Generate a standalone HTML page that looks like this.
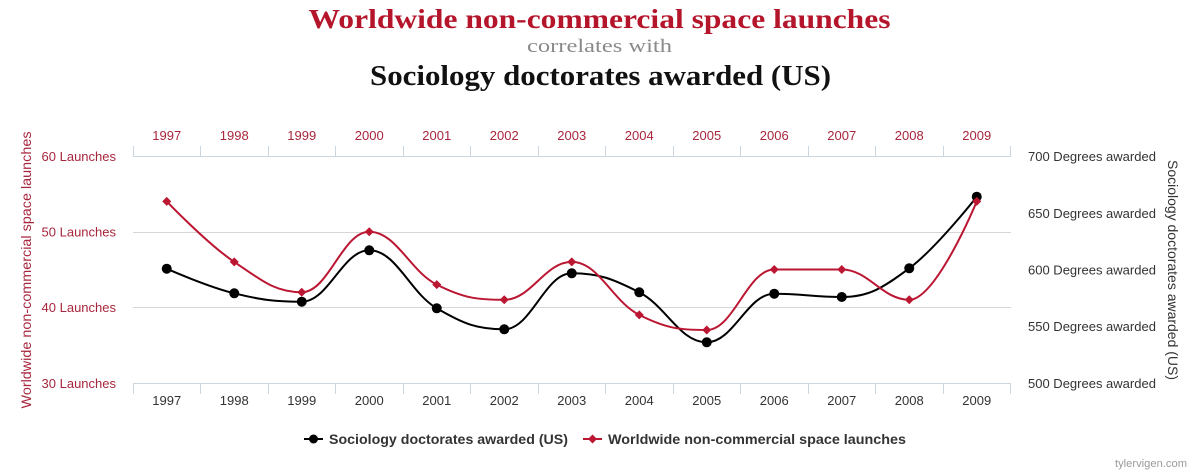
<!DOCTYPE html>
<html>
<head>
<meta charset="utf-8">
<style>
  html, body { margin: 0; padding: 0; background: #ffffff; }
  body { width: 1200px; height: 473px; overflow: hidden; }
  svg { display: block; }
  .sans { font-family: "Liberation Sans", "DejaVu Sans", sans-serif; }
  .serif { font-family: "Liberation Serif", "DejaVu Serif", serif; }
</style>
</head>
<body>
<svg width="1200" height="473" viewBox="0 0 1200 473" xmlns="http://www.w3.org/2000/svg">
  <rect x="0" y="0" width="1200" height="473" fill="#ffffff"/>

  <!-- Titles -->
  <text class="serif" x="599.5" y="28" text-anchor="middle" font-size="27" font-weight="bold" fill="#b5152b" textLength="582" lengthAdjust="spacingAndGlyphs">Worldwide non-commercial space launches</text>
  <text class="serif" x="599.5" y="52" text-anchor="middle" font-size="19" fill="#8a8a8a" textLength="145" lengthAdjust="spacingAndGlyphs">correlates with</text>
  <text class="serif" x="600.5" y="85" text-anchor="middle" font-size="28" font-weight="bold" fill="#111111" textLength="461" lengthAdjust="spacingAndGlyphs">Sociology doctorates awarded (US)</text>

  <!-- Grid lines -->
  <g stroke="#d6d6d6" stroke-width="1">
    <line x1="133" y1="232.5" x2="1011" y2="232.5"/>
    <line x1="133" y1="307.5" x2="1011" y2="307.5"/>
  </g>

  <!-- Axis lines -->
  <g stroke="#ccd6e0" stroke-width="1">
    <line x1="133" y1="156.5" x2="1011" y2="156.5"/>
    <line x1="133" y1="383.5" x2="1011" y2="383.5"/>
    <!-- top ticks -->
    <line x1="133.5" y1="146" x2="133.5" y2="156"/>
    <line x1="200.5" y1="146" x2="200.5" y2="156"/>
    <line x1="268.5" y1="146" x2="268.5" y2="156"/>
    <line x1="335.5" y1="146" x2="335.5" y2="156"/>
    <line x1="403.5" y1="146" x2="403.5" y2="156"/>
    <line x1="470.5" y1="146" x2="470.5" y2="156"/>
    <line x1="538.5" y1="146" x2="538.5" y2="156"/>
    <line x1="605.5" y1="146" x2="605.5" y2="156"/>
    <line x1="673.5" y1="146" x2="673.5" y2="156"/>
    <line x1="740.5" y1="146" x2="740.5" y2="156"/>
    <line x1="808.5" y1="146" x2="808.5" y2="156"/>
    <line x1="875.5" y1="146" x2="875.5" y2="156"/>
    <line x1="943.5" y1="146" x2="943.5" y2="156"/>
    <line x1="1010.5" y1="146" x2="1010.5" y2="156"/>
    <!-- bottom ticks -->
    <line x1="133.5" y1="384" x2="133.5" y2="394"/>
    <line x1="200.5" y1="384" x2="200.5" y2="394"/>
    <line x1="268.5" y1="384" x2="268.5" y2="394"/>
    <line x1="335.5" y1="384" x2="335.5" y2="394"/>
    <line x1="403.5" y1="384" x2="403.5" y2="394"/>
    <line x1="470.5" y1="384" x2="470.5" y2="394"/>
    <line x1="538.5" y1="384" x2="538.5" y2="394"/>
    <line x1="605.5" y1="384" x2="605.5" y2="394"/>
    <line x1="673.5" y1="384" x2="673.5" y2="394"/>
    <line x1="740.5" y1="384" x2="740.5" y2="394"/>
    <line x1="808.5" y1="384" x2="808.5" y2="394"/>
    <line x1="875.5" y1="384" x2="875.5" y2="394"/>
    <line x1="943.5" y1="384" x2="943.5" y2="394"/>
    <line x1="1010.5" y1="384" x2="1010.5" y2="394"/>
  </g>

  <!-- Top year labels -->
  <g class="sans" font-size="13" fill="#a8263d" text-anchor="middle">
    <text x="166.75" y="140">1997</text>
    <text x="234.25" y="140">1998</text>
    <text x="301.75" y="140">1999</text>
    <text x="369.25" y="140">2000</text>
    <text x="436.75" y="140">2001</text>
    <text x="504.25" y="140">2002</text>
    <text x="571.75" y="140">2003</text>
    <text x="639.25" y="140">2004</text>
    <text x="706.75" y="140">2005</text>
    <text x="774.25" y="140">2006</text>
    <text x="841.75" y="140">2007</text>
    <text x="909.25" y="140">2008</text>
    <text x="976.75" y="140">2009</text>
  </g>

  <!-- Bottom year labels -->
  <g class="sans" font-size="13" fill="#333333" text-anchor="middle">
    <text x="166.75" y="405">1997</text>
    <text x="234.25" y="405">1998</text>
    <text x="301.75" y="405">1999</text>
    <text x="369.25" y="405">2000</text>
    <text x="436.75" y="405">2001</text>
    <text x="504.25" y="405">2002</text>
    <text x="571.75" y="405">2003</text>
    <text x="639.25" y="405">2004</text>
    <text x="706.75" y="405">2005</text>
    <text x="774.25" y="405">2006</text>
    <text x="841.75" y="405">2007</text>
    <text x="909.25" y="405">2008</text>
    <text x="976.75" y="405">2009</text>
  </g>

  <!-- Left axis labels -->
  <g class="sans" font-size="13" fill="#a8263d" text-anchor="end">
    <text x="116" y="161">60 Launches</text>
    <text x="116" y="236.5">50 Launches</text>
    <text x="116" y="312">40 Launches</text>
    <text x="116" y="388">30 Launches</text>
  </g>

  <!-- Right axis labels -->
  <g class="sans" font-size="13" fill="#333333" text-anchor="start">
    <text x="1028" y="161">700 Degrees awarded</text>
    <text x="1028" y="218">650 Degrees awarded</text>
    <text x="1028" y="274.5">600 Degrees awarded</text>
    <text x="1028" y="331">550 Degrees awarded</text>
    <text x="1028" y="388">500 Degrees awarded</text>
  </g>

  <!-- Axis titles -->
  <text class="sans" x="31" y="270" transform="rotate(-90 31 270)" text-anchor="middle" font-size="14" fill="#a8263d" textLength="277" lengthAdjust="spacingAndGlyphs">Worldwide non-commercial space launches</text>
  <text class="sans" x="1168" y="270" transform="rotate(90 1168 270)" text-anchor="middle" font-size="14" fill="#333333" textLength="220" lengthAdjust="spacingAndGlyphs">Sociology doctorates awarded (US)</text>

  <!-- Black series: Sociology doctorates -->
  <path fill="none" stroke="#000000" stroke-width="2" stroke-linejoin="round" stroke-linecap="round"
    d="M166.75,268.7
       C166.75,268.7 207.25,286.7 234.25,293.3
       C261.25,299.9 274.75,301.7 301.75,301.7
       C328.75,301.7 342.25,250.3 369.25,250.3
       C396.25,250.3 409.75,292.5 436.75,308.3
       C463.75,324.1 477.25,329.3 504.25,329.3
       C531.25,329.3 544.75,273.3 571.75,273.3
       C598.75,273.3 612.25,278.5 639.25,292.3
       C666.25,306.1 679.75,342.3 706.75,342.3
       C733.75,342.3 747.25,293.7 774.25,293.7
       C801.25,293.7 814.75,297 841.75,297
       C868.75,297 882.25,288.36 909.25,268.3
       C936.25,248.24 976.75,196.7 976.75,196.7"/>
  <g fill="#000000">
    <circle cx="166.75" cy="268.7" r="5"/>
    <circle cx="234.25" cy="293.3" r="5"/>
    <circle cx="301.75" cy="301.7" r="5"/>
    <circle cx="369.25" cy="250.3" r="5"/>
    <circle cx="436.75" cy="308.3" r="5"/>
    <circle cx="504.25" cy="329.3" r="5"/>
    <circle cx="571.75" cy="273.3" r="5"/>
    <circle cx="639.25" cy="292.3" r="5"/>
    <circle cx="706.75" cy="342.3" r="5"/>
    <circle cx="774.25" cy="293.7" r="5"/>
    <circle cx="841.75" cy="297" r="5"/>
    <circle cx="909.25" cy="268.3" r="5"/>
    <circle cx="976.75" cy="196.7" r="5"/>
  </g>

  <!-- Red series: launches -->
  <path fill="none" stroke="#bb1632" stroke-width="2" stroke-linejoin="round" stroke-linecap="round"
    d="M166.75,201.4
       C166.75,201.4 207.25,243.74 234.25,261.9
       C261.25,280.06 274.75,292.2 301.75,292.2
       C328.75,292.2 342.25,231.7 369.25,231.7
       C396.25,231.7 409.75,270.98 436.75,284.6
       C463.75,298.22 477.25,299.8 504.25,299.8
       C531.25,299.8 544.75,261.9 571.75,261.9
       C598.75,261.9 612.25,301.28 639.25,314.9
       C666.25,328.52 679.75,330 706.75,330
       C733.75,330 747.25,269.5 774.25,269.5
       C801.25,269.5 814.75,269.5 841.75,269.5
       C868.75,269.5 882.25,299.8 909.25,299.8
       C936.25,299.8 976.75,201.4 976.75,201.4"/>
  <g fill="#bb1632">
    <path d="M166.75,196.9 L171.25,201.4 L166.75,205.9 L162.25,201.4 Z"/>
    <path d="M234.25,257.4 L238.75,261.9 L234.25,266.4 L229.75,261.9 Z"/>
    <path d="M301.75,287.7 L306.25,292.2 L301.75,296.7 L297.25,292.2 Z"/>
    <path d="M369.25,227.2 L373.75,231.7 L369.25,236.2 L364.75,231.7 Z"/>
    <path d="M436.75,280.1 L441.25,284.6 L436.75,289.1 L432.25,284.6 Z"/>
    <path d="M504.25,295.3 L508.75,299.8 L504.25,304.3 L499.75,299.8 Z"/>
    <path d="M571.75,257.4 L576.25,261.9 L571.75,266.4 L567.25,261.9 Z"/>
    <path d="M639.25,310.4 L643.75,314.9 L639.25,319.4 L634.75,314.9 Z"/>
    <path d="M706.75,325.5 L711.25,330 L706.75,334.5 L702.25,330 Z"/>
    <path d="M774.25,265 L778.75,269.5 L774.25,274 L769.75,269.5 Z"/>
    <path d="M841.75,265 L846.25,269.5 L841.75,274 L837.25,269.5 Z"/>
    <path d="M909.25,295.3 L913.75,299.8 L909.25,304.3 L904.75,299.8 Z"/>
    <path d="M976.75,196.9 L981.25,201.4 L976.75,205.9 L972.25,201.4 Z"/>
  </g>

  <!-- Legend -->
  <line x1="304" y1="439" x2="323" y2="439" stroke="#000000" stroke-width="2"/>
  <circle cx="313.5" cy="439" r="4.5" fill="#000000"/>
  <text class="sans" x="329" y="444" font-size="14" font-weight="bold" fill="#333333" textLength="239" lengthAdjust="spacingAndGlyphs">Sociology doctorates awarded (US)</text>

  <line x1="583" y1="439" x2="602" y2="439" stroke="#bb1632" stroke-width="2"/>
  <path d="M592.5,434.5 L597,439 L592.5,443.5 L588,439 Z" fill="#bb1632"/>
  <text class="sans" x="608" y="444" font-size="14" font-weight="bold" fill="#333333" textLength="298" lengthAdjust="spacingAndGlyphs">Worldwide non-commercial space launches</text>

  <!-- Watermark -->
  <text class="sans" x="1115" y="467" font-size="11" fill="#9a9a9a" textLength="72" lengthAdjust="spacingAndGlyphs">tylervigen.com</text>
</svg>
</body>
</html>
